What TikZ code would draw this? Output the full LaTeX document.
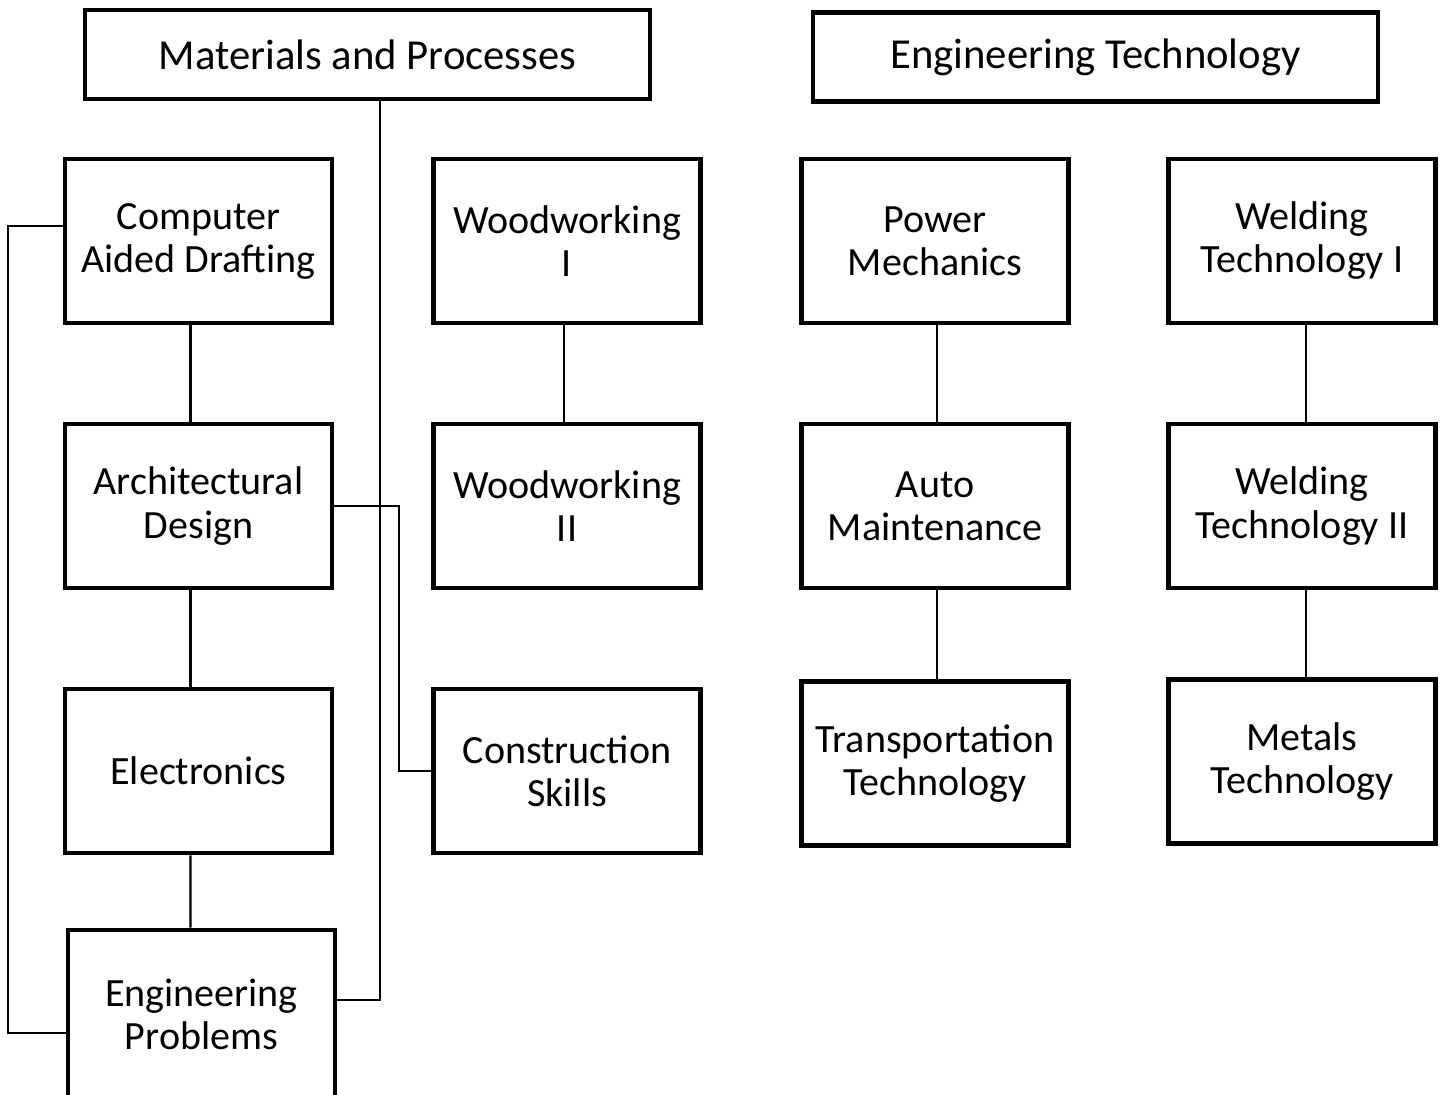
\documentclass[tikz,border=0pt]{standalone}
\usepackage{fontspec}
\setmainfont{Carlito}
\usetikzlibrary{positioning}

\begin{document}
\begin{tikzpicture}[box/.style={draw=black,line width=2.6pt,align=center,minimum width=5.34cm,minimum height=3.28cm,font=\fontsize{22.8}{24.5}\selectfont},
head/.style={box,minimum width=11.30cm,minimum height=1.78cm,font=\fontsize{24.3}{26}\selectfont},
link/.style={draw=black,line width=1.2pt}]
\useasboundingbox (0,0) rectangle (28.9,-21.88);
% top headings
\node[head] (mp) at (7.35,-1.09) {Materials and Processes};
\node[head] (et) at (21.91,-1.14) {Engineering Technology};
% first row
\node[box] (cad) at (3.97,-4.82) {Computer\\Aided Drafting};
\node[box] (ww1) at (11.34,-4.82) {Woodworking\\I};
\node[box] (pm) at (18.70,-4.82) {Power\\Mechanics};
\node[box] (wt1) at (26.04,-4.82) {Welding\\Technology I};
% second row
\node[box] (ad) at (3.97,-10.12) {Architectural\\Design};
\node[box] (ww2) at (11.34,-10.12) {Woodworking\\II};
\node[box] (am) at (18.70,-10.12) {Auto\\Maintenance};
\node[box] (wt2) at (26.04,-10.12) {Welding\\Technology II};
% third row
\node[box] (el) at (3.97,-15.42) {Electronics};
\node[box] (cs) at (11.34,-15.42) {Construction\\Skills};
\node[box] (tt) at (18.70,-15.27) {Transportation\\Technology};
\node[box] (mt) at (26.04,-15.23) {Metals\\Technology};
\node[box,minimum height=3.36cm] (ep) at (4.03,-20.28) {Engineering\\Problems};
% links
\draw[link] ([xshift=-0.16cm]cad.south) -- ([xshift=-0.16cm]ad.north);
\draw[link] ([xshift=-0.16cm]ad.south) -- ([xshift=-0.16cm]el.north);
\draw[link] ([xshift=-0.16cm]el.south) -- ([xshift=-0.22cm]ep.north);
\draw[link] ([xshift=-0.06cm]ww1.south) -- ([xshift=-0.06cm]ww2.north);
\draw[link] ([xshift=0.04cm]pm.south) -- ([xshift=0.04cm]am.north);
\draw[link] ([xshift=0.04cm]am.south) -- ([xshift=0.04cm]tt.north);
\draw[link] ([xshift=0.08cm]wt1.south) -- ([xshift=0.08cm]wt2.north);
\draw[link] ([xshift=0.08cm]wt2.south) -- ([xshift=0.08cm]mt.north);
\draw[link] ([xshift=0.25cm]mp.south) |- ([yshift=0.28cm]ep.east);
\draw[link] ([yshift=0.3cm]cad.west) -- ++(-1.1,0) |- ([yshift=-0.38cm]ep.west);
\draw[link] (ad.east) -- ++(1.3,0) |- (cs.west);
\end{tikzpicture}
\end{document}
